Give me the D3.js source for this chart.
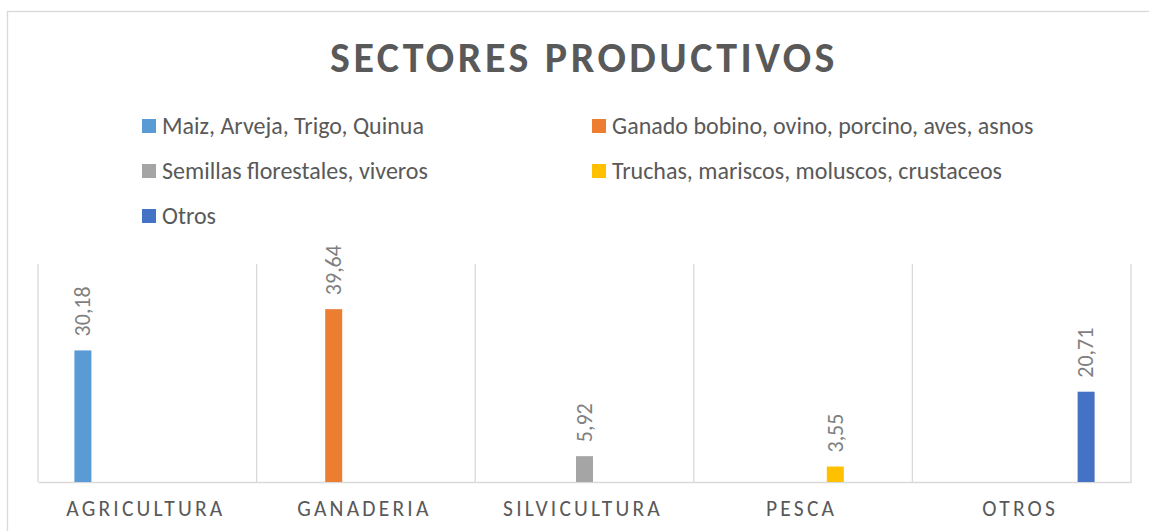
<!DOCTYPE html>
<meta charset="utf-8">
<html>
<head>
<script src="https://d3js.org/d3.v7.min.js"></script>
<style>
  body { margin: 0; background: #fff; }
  text { font-family: Calibri, Carlito, "Open Sans", sans-serif; }
</style>
</head>
<body>
<div id="my_dataviz"></div>
<script>

// data
var categories = ["AGRICULTURA", "GANADERIA", "SILVICULTURA", "PESCA", "OTROS"]
var seriesNames = ["Maiz, Arveja, Trigo, Quinua", "Ganado bobino, ovino, porcino, aves, asnos",
                   "Semillas florestales, viveros", "Truchas, mariscos, moluscos, crustaceos", "Otros"]
var values = [30.18, 39.64, 5.92, 3.55, 20.71]   // each series only has a value in its own sector
var colors = ["#5B9BD5", "#ED7D31", "#A5A5A5", "#FFC000", "#4472C4"]
var yMax = 50

var width = 1149, height = 531

var svg = d3.select("#my_dataviz")
  .append("svg")
  .attr("width", width)
  .attr("height", height)

// chart border
svg.append("rect")
  .attr("x", 7.5).attr("y", 11.5)
  .attr("width", 1160).attr("height", 540)
  .attr("fill", "#fff")
  .attr("stroke", "#d9d9d9")
  .attr("stroke-width", 1.3)

// title
svg.append("text")
  .attr("x", 584)
  .attr("y", 72)
  .attr("text-anchor", "middle")
  .style("font-size", "42px")
  .style("font-weight", "bold")
  .style("letter-spacing", "3.5px")
  .style("fill", "#595959")
  .text("SECTORES PRODUCTIVOS")

// legend, two columns
var legend = svg.append("g")
  .selectAll("g")
  .data(seriesNames)
  .enter()
  .append("g")
  .attr("transform", function(d, i) {
    return "translate(" + (i % 2 == 0 ? 142 : 592) + "," + (126 + Math.floor(i / 2) * 45) + ")"
  })
legend.append("rect")
  .attr("x", 0).attr("y", -7)
  .attr("width", 14).attr("height", 14)
  .style("fill", function(d, i) { return colors[i] })
legend.append("text")
  .attr("x", 20)
  .attr("y", 0)
  .attr("dy", "0.34em")
  .style("font-size", "24px")
  .style("fill", "#595959")
  .text(function(d) { return d })

// scales
var x0 = d3.scaleBand()
  .domain(categories)
  .range([38, 1131])
  .padding(0)

var x1 = d3.scaleBand()
  .domain(seriesNames)
  .range([0, x0.bandwidth()])
  .paddingInner(0.472)
  .paddingOuter(1.13)

var y = d3.scaleLinear()
  .domain([0, yMax])
  .range([482, 264])

// vertical gridlines at category boundaries
var bounds = categories.map(function(c) { return x0(c) }).concat([x0.range()[1]])
svg.append("g")
  .selectAll("line")
  .data(bounds)
  .enter()
  .append("line")
  .attr("x1", function(d) { return d }).attr("x2", function(d) { return d })
  .attr("y1", y(yMax)).attr("y2", y(0))
  .style("stroke", "#d9d9d9")
  .style("stroke-width", 1.3)

// x axis
var xAxis = svg.append("g")
  .attr("transform", "translate(0," + y(0) + ")")
  .call(d3.axisBottom(x0).tickSize(0).tickPadding(19))
xAxis.select(".domain").attr("stroke", "#d9d9d9").attr("stroke-width", 1.5)
xAxis.selectAll(".tick text")
  .attr("dy", "0.71em")
  .attr("dx", "-1.5px")
  .style("font-size", "21.5px")
  .style("letter-spacing", "3.2px")
  .style("fill", "#595959")
  .style("font-family", "Calibri, Carlito, 'Open Sans', sans-serif")

// bars
var bars = svg.append("g")
  .selectAll("rect")
  .data(values)
  .enter()
  .append("rect")
  .attr("x", function(d, i) { return x0(categories[i]) + x1(seriesNames[i]) })
  .attr("y", function(d) { return y(d) })
  .attr("width", x1.bandwidth())
  .attr("height", function(d) { return y(0) - y(d) })
  .style("fill", function(d, i) { return colors[i] })

// data labels, rotated
svg.append("g")
  .selectAll("text")
  .data(values)
  .enter()
  .append("text")
  .attr("transform", function(d, i) {
    var cx = x0(categories[i]) + x1(seriesNames[i]) + x1.bandwidth() / 2
    return "translate(" + cx + "," + (y(d) - 14) + ") rotate(-90)"
  })
  .attr("dy", "0.33em")
  .style("font-size", "22px")
  .style("fill", "#7f7f7f")
  .text(function(d) { return d.toFixed(2).replace(".", ",") })

</script>
</body>
</html>
